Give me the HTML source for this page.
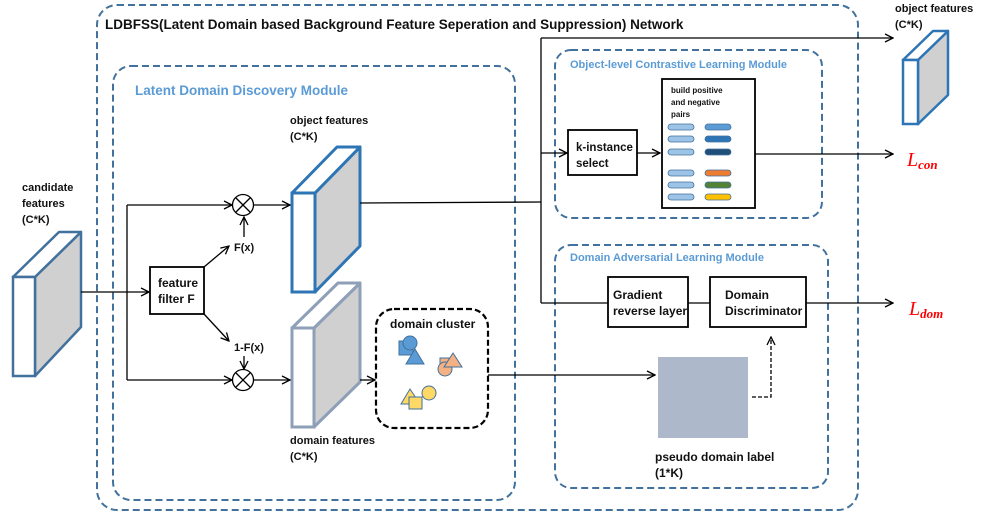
<!DOCTYPE html>
<html><head><meta charset="utf-8"><style>
html,body{margin:0;padding:0;background:#fff;}
svg{display:block;font-family:"Liberation Sans",sans-serif;}
.b{font-weight:bold;font-size:11px;fill:#111;}
.t{font-weight:bold;font-size:12px;fill:#5b9bd5;}
</style></head><body>
<svg width="997" height="518" viewBox="0 0 997 518">
<defs>
<marker id="a" markerWidth="10" markerHeight="10" refX="9" refY="5" orient="auto" markerUnits="userSpaceOnUse">
<path d="M1,1 L9,5 L1,9" fill="none" stroke="#000" stroke-width="1.3"/></marker>
</defs>
<rect x="97" y="5" width="761" height="505" rx="20" fill="none" stroke="#41719c" stroke-width="2" stroke-dasharray="7,4"/>
<rect x="113" y="66" width="402" height="434" rx="18" fill="none" stroke="#41719c" stroke-width="2" stroke-dasharray="7,4"/>
<rect x="555" y="50" width="267" height="168" rx="16" fill="none" stroke="#41719c" stroke-width="2" stroke-dasharray="7,4"/>
<rect x="555" y="245" width="273" height="243" rx="16" fill="none" stroke="#41719c" stroke-width="2" stroke-dasharray="7,4"/>
<text x="105" y="29" style="font-weight:bold;font-size:13.5px;fill:#111">LDBFSS(Latent Domain based Background Feature Seperation and Suppression) Network</text>
<text x="135" y="95" class="t" style="font-size:13.5px">Latent Domain Discovery Module</text>
<text x="570" y="68" class="t" style="font-size:11px">Object-level Contrastive Learning Module</text>
<text x="570" y="261" class="t" style="font-size:11px">Domain Adversarial Learning Module</text>

<polygon points="35,277 81,232 81,327 35,376" fill="#d0d0d0" stroke="#41719c" stroke-width="2.5" stroke-linejoin="round"/>
<polygon points="13,277 59,232 81,232 35,277" fill="#fff" stroke="#41719c" stroke-width="2.5" stroke-linejoin="round"/>
<rect x="13" y="277" width="22" height="99" fill="#fff" stroke="#41719c" stroke-width="2.5"/>
<text x="22" y="191" class="b">candidate</text>
<text x="22" y="207" class="b">features</text>
<text x="22" y="223" class="b">(C*K)</text>

<polygon points="315,193 360,147 360,246 315,292" fill="#d0d0d0" stroke="#2e75b6" stroke-width="3" stroke-linejoin="round"/>
<polygon points="292,193 337,147 360,147 315,193" fill="#fff" stroke="#2e75b6" stroke-width="3" stroke-linejoin="round"/>
<rect x="292" y="193" width="23" height="99" fill="#fff" stroke="#2e75b6" stroke-width="3"/>
<text x="290" y="124" class="b">object features</text>
<text x="290" y="140" class="b">(C*K)</text>

<polygon points="314,328 360,283 360,382 314,427" fill="#d0d0d0" stroke="#8ea0b8" stroke-width="3" stroke-linejoin="round"/>
<polygon points="292,328 338,283 360,283 314,328" fill="#fff" stroke="#8ea0b8" stroke-width="3" stroke-linejoin="round"/>
<rect x="292" y="328" width="22" height="99" fill="#fff" stroke="#8ea0b8" stroke-width="3"/>
<text x="290" y="444" class="b">domain features</text>
<text x="290" y="460" class="b">(C*K)</text>

<polygon points="918,60 948,31 948,95 918,124" fill="#d0d0d0" stroke="#2e75b6" stroke-width="2.5" stroke-linejoin="round"/>
<polygon points="903,60 933,31 948,31 918,60" fill="#fff" stroke="#2e75b6" stroke-width="2.5" stroke-linejoin="round"/>
<rect x="903" y="60" width="15" height="64" fill="#fff" stroke="#2e75b6" stroke-width="2.5"/>
<text x="895" y="12" class="b">object features</text>
<text x="895" y="28" class="b">(C*K)</text>

<g stroke="#000" stroke-width="1.3" fill="none">
<line x1="81" y1="292" x2="149" y2="292" marker-end="url(#a)"/>
<line x1="127" y1="205" x2="127" y2="380"/>
<line x1="127" y1="205" x2="232" y2="205" marker-end="url(#a)"/>
<line x1="127" y1="380" x2="232" y2="380" marker-end="url(#a)"/>
<circle cx="243" cy="205" r="10.5" fill="#fff"/>
<line x1="236" y1="198" x2="250" y2="212"/><line x1="250" y1="198" x2="236" y2="212"/>
<circle cx="243" cy="380" r="10.5" fill="#fff"/>
<line x1="236" y1="373" x2="250" y2="387"/><line x1="250" y1="373" x2="236" y2="387"/>
<line x1="254" y1="205" x2="290" y2="205" marker-end="url(#a)"/>
<line x1="254" y1="380" x2="290" y2="380" marker-end="url(#a)"/>
<line x1="244" y1="237" x2="244" y2="217" marker-end="url(#a)"/>
<line x1="244" y1="356" x2="244" y2="369" marker-end="url(#a)"/>
<line x1="204" y1="267" x2="229" y2="246" marker-end="url(#a)"/>
<line x1="204" y1="314" x2="229" y2="341" marker-end="url(#a)"/>
<rect x="150" y="267" width="54" height="47" fill="#fff" stroke-width="1.8"/>
<line x1="360" y1="380" x2="375" y2="380" marker-end="url(#a)"/>
<line x1="360" y1="203" x2="541" y2="202"/>
<line x1="541" y1="38" x2="541" y2="303"/>
<line x1="541" y1="38" x2="893" y2="38" marker-end="url(#a)"/>
<line x1="541" y1="153" x2="567" y2="153" marker-end="url(#a)"/>
<line x1="637" y1="153" x2="660" y2="153" marker-end="url(#a)"/>
<line x1="755" y1="154" x2="893" y2="154" marker-end="url(#a)"/>
<line x1="541" y1="303" x2="608" y2="303"/>
<line x1="688" y1="303" x2="710" y2="303"/>
<line x1="806" y1="303" x2="893" y2="303" marker-end="url(#a)"/>
<line x1="488" y1="375" x2="655" y2="375" marker-end="url(#a)"/>
<polyline points="752,397 771,397 771,337" stroke-dasharray="4,2" marker-end="url(#a)"/>
<rect x="568" y="130" width="69" height="45" fill="#fff" stroke-width="1.8"/>
<rect x="662" y="79" width="93" height="129" fill="#fff" stroke-width="1.8"/>
<rect x="608" y="277" width="80" height="50" fill="#fff" stroke-width="1.8"/>
<rect x="710" y="277" width="96" height="50" fill="#fff" stroke-width="1.8"/>
<rect x="376" y="309" width="112" height="119" rx="18" stroke-width="2.2" stroke-dasharray="6,3"/>
</g>
<text x="158" y="287" class="b" style="font-size:12px">feature</text>
<text x="158" y="303" class="b" style="font-size:12px">filter F</text>
<text x="234" y="251" class="b">F(x)</text>
<text x="234" y="351" class="b">1-F(x)</text>
<text x="576" y="151" class="b" style="font-size:11.5px">k-instance</text>
<text x="576" y="167" class="b" style="font-size:11.5px">select</text>
<text x="671" y="93" class="b" style="font-size:8px">build positive</text>
<text x="671" y="105" class="b" style="font-size:8px">and negative</text>
<text x="671" y="117" class="b" style="font-size:8px">pairs</text>
<g stroke="#41719c" stroke-width="0.8">
<rect x="668" y="124" width="26" height="6" rx="3" fill="#9dc3e6"/>
<rect x="668" y="136" width="26" height="6" rx="3" fill="#9dc3e6"/>
<rect x="668" y="149" width="26" height="6" rx="3" fill="#9dc3e6"/>
<rect x="668" y="170" width="26" height="6" rx="3" fill="#9dc3e6"/>
<rect x="668" y="182" width="26" height="6" rx="3" fill="#9dc3e6"/>
<rect x="668" y="194" width="26" height="6" rx="3" fill="#9dc3e6"/>
<rect x="705" y="124" width="26" height="6" rx="3" fill="#5b9bd5"/>
<rect x="705" y="136" width="26" height="6" rx="3" fill="#2e75b6"/>
<rect x="705" y="149" width="26" height="6" rx="3" fill="#1f4e79"/>
<rect x="705" y="170" width="26" height="6" rx="3" fill="#ed7d31"/>
<rect x="705" y="182" width="26" height="6" rx="3" fill="#548235"/>
<rect x="705" y="194" width="26" height="6" rx="3" fill="#ffc000"/>
</g>
<text x="613" y="299" class="b" style="font-size:12px">Gradient</text>
<text x="613" y="315" class="b" style="font-size:12px">reverse layer</text>
<text x="725" y="299" class="b" style="font-size:12px">Domain</text>
<text x="725" y="315" class="b" style="font-size:12px">Discriminator</text>
<rect x="658" y="357" width="90" height="81" fill="#adb9ca"/>
<text x="655" y="461" class="b" style="font-size:12px">pseudo domain label</text>
<text x="655" y="477" class="b" style="font-size:12px">(1*K)</text>
<text x="390" y="328" class="b" style="font-size:12px">domain cluster</text>
<g stroke="#41719c" stroke-width="1">
<rect x="399" y="341" width="14" height="14" fill="#5b9bd5"/>
<circle cx="410" cy="343" r="7" fill="#5b9bd5"/>
<polygon points="415,349 424,364 406,364" fill="#5b9bd5"/>
<rect x="440" y="358" width="11" height="11" fill="#f4b183"/>
<circle cx="445" cy="369" r="7" fill="#f4b183"/>
<polygon points="453,353 462,367 444,367" fill="#f4b183"/>
<polygon points="410,389 420,404 401,404" fill="#ffd966"/>
<rect x="409" y="397" width="13" height="12" fill="#ffd966"/>
<circle cx="429" cy="393" r="7" fill="#ffd966"/>
</g>
<text x="907" y="166" style="font-family:'Liberation Serif',serif;font-style:italic;font-size:20px;fill:#ff0000">L<tspan font-size="13" dy="3" font-weight="bold">con</tspan></text>
<text x="909" y="315" style="font-family:'Liberation Serif',serif;font-style:italic;font-size:20px;fill:#ff0000">L<tspan font-size="13" dy="3" font-weight="bold">dom</tspan></text>
</svg>
</body></html>
